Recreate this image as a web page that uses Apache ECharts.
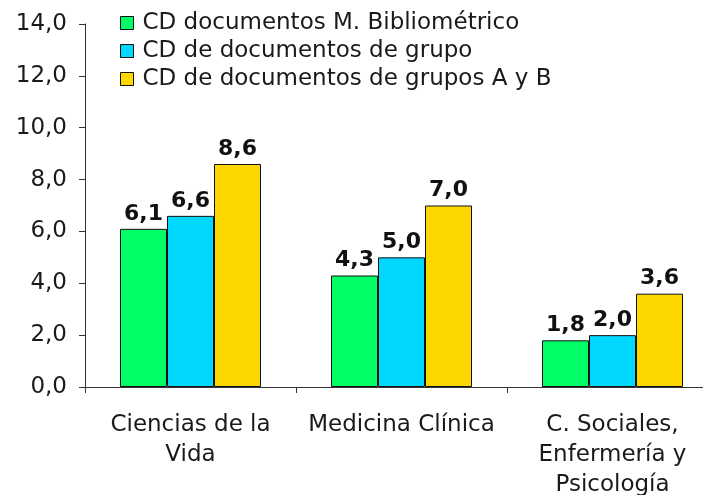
<!DOCTYPE html>
<html><head><meta charset="utf-8">
<script src="https://cdn.jsdelivr.net/npm/echarts@6/dist/echarts.min.js"></script>
<style>html,body{margin:0;padding:0;background:#fff}#c{width:703px;height:495px}</style>
</head><body><div id="c"></div>
<script>
const categories = ['Ciencias de la\nVida', 'Medicina Clínica', 'C. Sociales,\nEnfermería y\nPsicología'];
const seriesNames = ['CD documentos M. Bibliométrico', 'CD de documentos de grupo', 'CD de documentos de grupos A y B'];
const seriesM = [6.1, 4.3, 1.8];
const seriesGrupo = [6.6, 5.0, 2.0];
const seriesAB = [8.6, 7.0, 3.6];
const colors = ['#00FF66', '#00D8FF', '#FFD700'];
const yTicks = { min: 0, max: 14, interval: 2 };

const font = 'DejaVu Sans';
const fmt = v => v.toFixed(1).replace('.', ',');
const chart = echarts.init(document.getElementById('c'));
const mk = (name, data, color) => ({
  name, type: 'bar', data, barWidth: 47, barGap: '0%',
  itemStyle: { color, borderColor: '#111', borderWidth: 1 },
  label: { show: true, position: 'top', distance: 4, formatter: p => fmt(p.value),
    fontFamily: font, fontWeight: 'bold', fontSize: 22, color: '#111' }
});
chart.setOption({
  animation: false,
  legend: {
    orient: 'vertical', left: 115, top: 4, itemWidth: 13, itemHeight: 13, itemGap: 0,
    icon: 'rect',
    itemStyle: { borderColor: '#111', borderWidth: 1 },
    textStyle: { fontFamily: font, fontSize: 23, color: '#1a1a1a', lineHeight: 28, padding: [0, 0, 0, 4] },
    data: seriesNames
  },
  grid: { left: 85, top: 24, right: -15, bottom: 108, outerBoundsMode: 'none', containLabel: false },
  xAxis: {
    type: 'category', data: categories,
    axisLine: { lineStyle: { color: '#333', width: 1 } },
    axisTick: { show: true, length: 6, lineStyle: { color: '#333' } },
    axisLabel: { fontFamily: font, fontSize: 23, color: '#1a1a1a', lineHeight: 30, margin: 23, interval: 0 }
  },
  yAxis: {
    type: 'value', min: yTicks.min, max: yTicks.max, interval: yTicks.interval,
    axisLine: { show: true, lineStyle: { color: '#333', width: 1 } },
    axisTick: { show: true, length: 6, lineStyle: { color: '#333' } },
    splitLine: { show: false },
    axisLabel: { fontFamily: font, fontSize: 23, color: '#1a1a1a', margin: 18, formatter: v => fmt(v) }
  },
  series: [
    mk(seriesNames[0], seriesM, colors[0]),
    mk(seriesNames[1], seriesGrupo, colors[1]),
    mk(seriesNames[2], seriesAB, colors[2])
  ]
});
</script></body></html>
